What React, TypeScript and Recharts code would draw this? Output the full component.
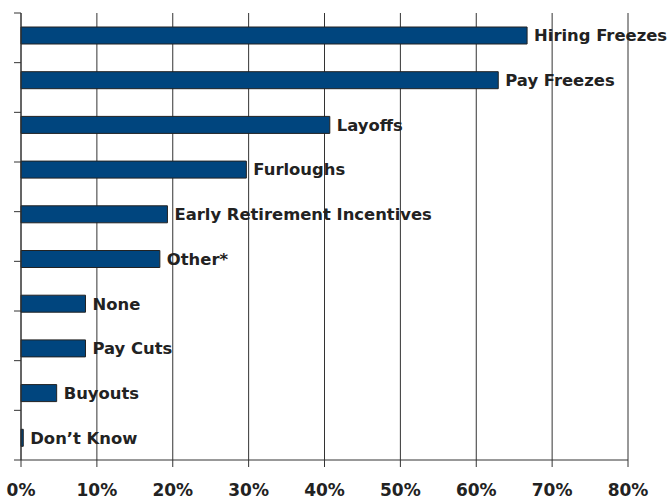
import { BarChart, Bar, XAxis, YAxis, CartesianGrid, LabelList } from 'recharts';

const categories = [
  'Hiring Freezes',
  'Pay Freezes',
  'Layoffs',
  'Furloughs',
  'Early Retirement Incentives',
  'Other*',
  'None',
  'Pay Cuts',
  'Buyouts',
  'Don\u2019t Know',
];
const shares = [66.7, 62.9, 40.7, 29.7, 19.3, 18.3, 8.5, 8.5, 4.7, 0.3];
const xTicks = [0, 10, 20, 30, 40, 50, 60, 70, 80];
const boundaryTicks = [0, 1, 2, 3, 4, 5, 6, 7, 8, 9, 10];

const data = categories.map((name, i) => ({ name, value: shares[i] }));

const font = '"DejaVu Sans", sans-serif';

export default function App() {
  return (
    <div style={{ position: 'absolute', left: 0, top: 0 }}>
      <BarChart
        width={668}
        height={504}
        data={data}
        layout="vertical"
        margin={{ top: 13, right: 40, bottom: 14, left: 0 }}
        barCategoryGap={14}
      >
        <CartesianGrid horizontal={false} stroke="#333" />
        <XAxis
          type="number"
          domain={[0, 80]}
          ticks={xTicks}
          tickFormatter={(v) => `${v}%`}
          tickSize={7}
          tickMargin={17}
          height={30}
          axisLine={{ stroke: '#333' }}
          tickLine={{ stroke: '#333' }}
          tick={{ fill: '#222', fontSize: 17, fontWeight: 700, fontFamily: font }}
        />
        <YAxis yAxisId="cat" type="category" dataKey="name" hide width={0} />
        <YAxis
          yAxisId="ticks"
          type="number"
          domain={[0, 10]}
          ticks={boundaryTicks}
          reversed
          width={21}
          tickSize={7}
          tickFormatter={() => ''}
          axisLine={{ stroke: '#333' }}
          tickLine={{ stroke: '#333' }}
        />
        <Bar
          yAxisId="cat"
          dataKey="value"
          fill="#00457e"
          stroke="#222"
          strokeWidth={1}
          isAnimationActive={false}
        >
          <LabelList
            dataKey="name"
            position="right"
            offset={7}
            style={{ fill: '#222', fontSize: 16.4, fontWeight: 700, fontFamily: font }}
          />
        </Bar>
      </BarChart>
    </div>
  );
}
